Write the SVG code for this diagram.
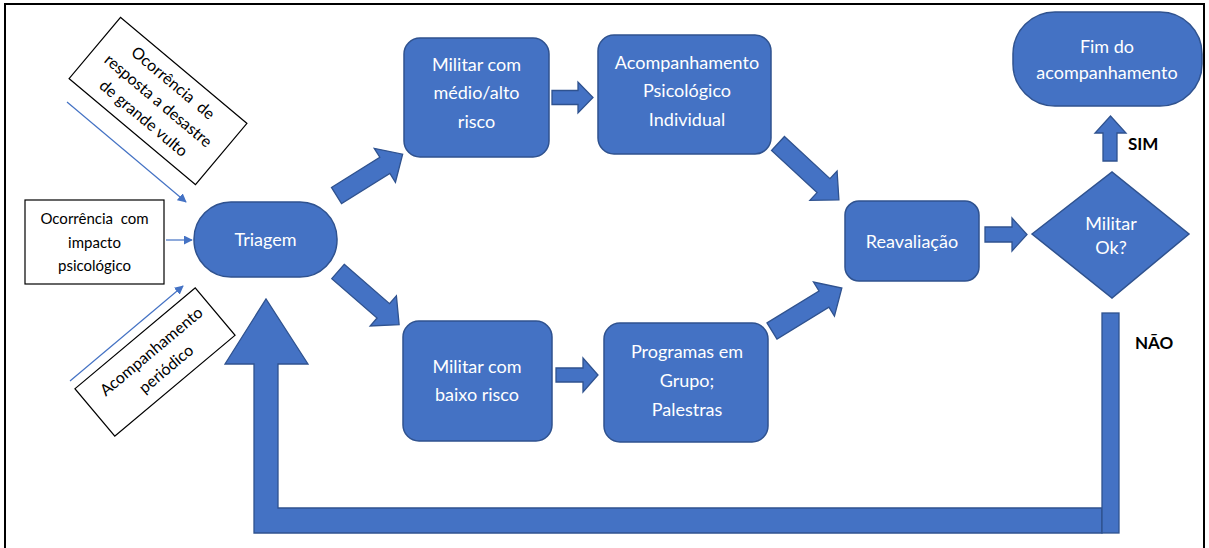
<svg xmlns="http://www.w3.org/2000/svg" width="1209" height="548" viewBox="0 0 1209 548">
<defs>
<style>
.n{fill:#4472C4;stroke:#2F528F;stroke-width:1.5}
.a{fill:#4472C4;stroke:#2F528F;stroke-width:1.3}
.w{fill:#fff;font-family:Lato,"Open Sans",sans-serif;font-size:18px;text-anchor:middle}
.b{fill:#000;font-family:Lato,"Open Sans",sans-serif;font-size:15px;text-anchor:middle}
.r{fill:#000;font-family:Lato,"Open Sans",sans-serif;font-size:16px;text-anchor:middle}
.k{fill:#000;font-family:Lato,"Open Sans",sans-serif;font-size:17px;font-weight:bold}
.box{fill:#fff;stroke:#000;stroke-width:1.2}
.ln{stroke:#4472C4;stroke-width:1.2;fill:none;marker-end:url(#ah)}
</style>
<marker id="ah" viewBox="0 0 10 10" refX="9" refY="5" markerWidth="9" markerHeight="9" markerUnits="userSpaceOnUse" orient="auto">
<path d="M0,0 L10,5 L0,10 Z" fill="#4472C4"/>
</marker>
</defs>
<rect width="1209" height="548" fill="#fff"/>
<rect x="5" y="4" width="1199" height="550" fill="none" stroke="#000" stroke-width="2"/>

<g id="connectors">
<line class="ln" x1="67" y1="102" x2="186" y2="202"/>
<line class="ln" x1="166" y1="240" x2="192" y2="240"/>
<line class="ln" x1="70" y1="381" x2="183" y2="286"/>
<path class="a" transform="translate(336.5,195.5) rotate(-32)" d="M0,-9.5 L57,-9.5 L57,-20 L78,0 L57,20 L57,9.5 L0,9.5 Z"/>
<path class="a" transform="translate(338,271.5) rotate(41)" d="M0,-9.5 L60,-9.5 L60,-20 L81,0 L60,20 L60,9.5 L0,9.5 Z"/>
<path class="a" transform="translate(778,143.5) rotate(42.8)" d="M0,-9.5 L62,-9.5 L62,-20 L83,0 L62,20 L62,9.5 L0,9.5 Z"/>
<path class="a" transform="translate(772,331) rotate(-31.6)" d="M0,-9.5 L61,-9.5 L61,-20 L82,0 L61,20 L61,9.5 L0,9.5 Z"/>
<path class="a" d="M552,90.5 L578,90.5 L578,82 L593,97.5 L578,113 L578,104.5 L552,104.5 Z"/>
<path class="a" d="M556,368 L583,368 L583,358 L598,375 L583,392 L583,382 L556,382 Z"/>
<path class="a" d="M985,227 L1012,227 L1012,218 L1027,234.5 L1012,251 L1012,242 L985,242 Z"/>
<path class="a" d="M1103,161 L1103,133 L1095,133 L1110.5,116 L1126,133 L1117,133 L1117,161 Z"/>
<path class="a" d="M254,533 L1102,533 L1102,508 L278,508 L278,364 L308,364 L266,299 L225,364 L254,364 Z"/>
<rect class="a" x="1102" y="313" width="17" height="220"/>
<text class="k" x="1128" y="150">SIM</text>
<text class="k" x="1135" y="349">NÃO</text>
</g>

<g id="n_desastre">
<g transform="translate(158,101) rotate(40)">
<rect class="box" x="-82.5" y="-40" width="165" height="80"/>
<text class="r" x="0" y="-18" xml:space="preserve">Ocorrência  de</text>
<text class="r" x="0" y="5">resposta a desastre</text>
<text class="r" x="0" y="28">de grande vulto</text>
</g>
</g>

<g id="n_impacto">
<rect class="box" x="25" y="200" width="139" height="84"/>
<text class="b" x="94.5" y="224" xml:space="preserve">Ocorrência  com</text>
<text class="b" x="94.5" y="248">impacto</text>
<text class="b" x="94.5" y="271">psicológico</text>
</g>

<g id="n_periodico">
<g transform="translate(155,362) rotate(-40)">
<rect class="box" x="-78.5" y="-31" width="157" height="62"/>
<text class="r" x="4" y="-5">Acompanhamento</text>
<text class="r" x="4" y="18">periódico</text>
</g>
</g>

<g id="n_triagem">
<rect class="n" x="194" y="202" width="143" height="75" rx="37" ry="37"/>
<text class="w" x="265.5" y="246">Triagem</text>
</g>

<g id="n_medio">
<rect class="n" x="404" y="38" width="145" height="119" rx="16"/>
<text class="w" x="476.5" y="71">Militar com</text>
<text class="w" x="476.5" y="99">médio/alto</text>
<text class="w" x="476.5" y="128">risco</text>
</g>

<g id="n_individual">
<rect class="n" x="598" y="35" width="173" height="119" rx="16"/>
<text class="w" x="687" y="69">Acompanhamento</text>
<text class="w" x="687" y="97">Psicológico</text>
<text class="w" x="687" y="126">Individual</text>
</g>

<g id="n_baixo">
<rect class="n" x="403" y="321" width="149" height="120" rx="16"/>
<text class="w" x="477" y="373">Militar com</text>
<text class="w" x="477" y="401">baixo risco</text>
</g>

<g id="n_grupo">
<rect class="n" x="604" y="323" width="164" height="119" rx="16"/>
<text class="w" x="687" y="358">Programas em</text>
<text class="w" x="687" y="387">Grupo;</text>
<text class="w" x="687" y="416">Palestras</text>
</g>

<g id="n_reavaliacao">
<rect class="n" x="845" y="201" width="134" height="80" rx="14"/>
<text class="w" x="912" y="248">Reavaliação</text>
</g>

<g id="n_ok">
<path class="n" d="M1032,234 L1112,172 L1189,234 L1112,298 Z"/>
<text class="w" x="1111" y="230">Militar</text>
<text class="w" x="1111" y="254">Ok?</text>
</g>

<g id="n_fim">
<rect class="n" x="1013" y="12" width="189" height="94" rx="42" ry="42"/>
<text class="w" x="1107" y="53">Fim do</text>
<text class="w" x="1107" y="79">acompanhamento</text>
</g>
</svg>
